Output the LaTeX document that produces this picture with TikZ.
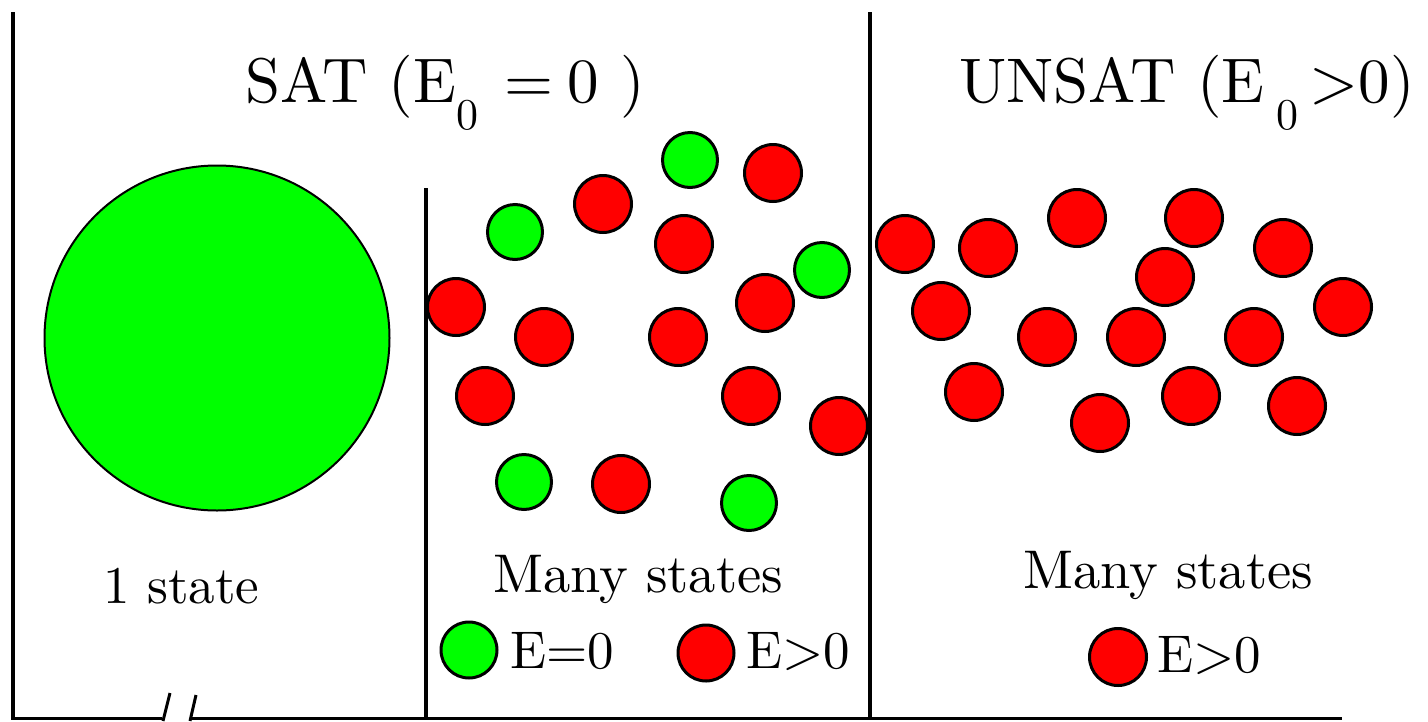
\documentclass[tikz,border=0pt]{standalone}
\usepackage{fontspec}
\setmainfont{lmroman10-regular}[Extension=.otf]
\usepackage{tikz}

\definecolor{stategreen}{RGB}{0,255,0}
\definecolor{statered}{RGB}{255,0,0}

\begin{document}
\begin{tikzpicture}[
    x=1pt, y=-1pt,
    state/.style={draw, circle, line width=3pt, inner sep=0pt, minimum size=57pt},
    goodstate/.style={state, fill=stategreen, minimum size=55pt},
    badstate/.style={state, fill=statered},
    title/.style={anchor=base west, inner sep=0pt, font=\fontsize{63}{70}\selectfont},
    caption/.style={anchor=base west, inner sep=0pt, font=\fontsize{53}{60}\selectfont}
]
\useasboundingbox (0,0) rectangle (1428,721);

% Frame
\draw[line width=4.5pt] (13,12) -- (13,719);
\draw[line width=3.5pt] (426,188) -- (426,719);
\draw[line width=4.5pt] (870,12) -- (870,719);
\draw[line width=3pt] (11,718) -- (162,718);
\draw[line width=3pt] (192,718) -- (1342,718);
\draw[line width=3pt] (170,693) -- (163,721);
\draw[line width=3pt] (196,695) -- (190,721);

% Titles
\node[title] (sat) at (245,102) {SAT (E\raisebox{-27pt}{\fontsize{44}{44}\selectfont 0}\kern26pt=\kern14pt0\kern22pt)};
\node[title] (unsat) at (959,102) {UNSAT (E\kern12pt\raisebox{-27pt}{\fontsize{44}{44}\selectfont 0}\kern11pt>0)};

% SAT, one ground state
\node[goodstate, line width=2pt, minimum size=345pt] (ground) at (217,338) {};
\node[caption] (one) at (103,603) {1 state};

% SAT, many states
\node[goodstate] (g1) at (690,160) {};
\node[goodstate] (g2) at (515,232) {};
\node[goodstate] (g3) at (822,270) {};
\node[goodstate] (g4) at (524,482) {};
\node[goodstate] (g5) at (749,503) {};
\node[badstate] (r1) at (773,173) {};
\node[badstate] (r2) at (603,204) {};
\node[badstate] (r3) at (684,244) {};
\node[badstate] (r4) at (456,307) {};
\node[badstate] (r5) at (765,303) {};
\node[badstate] (r6) at (544,337) {};
\node[badstate] (r7) at (678,337) {};
\node[badstate] (r8) at (485,396) {};
\node[badstate] (r9) at (751,396) {};
\node[badstate] (r10) at (839,426) {};
\node[badstate] (r11) at (621,484) {};
\node[caption, font=\fontsize{54.5}{60}\selectfont] (many) at (493,592) {Many states};

% SAT legend
\node[goodstate, minimum size=56pt] (keyg) at (469,650) {};
\node[caption] (keygtext) at (510,668) {E=0};
\node[badstate, minimum size=56pt] (keyr) at (706,653) {};
\node[caption] (keyrtext) at (746,668) {E>0};

% UNSAT, many states
\node[badstate] (u1) at (905,244) {};
\node[badstate] (u2) at (988,248) {};
\node[badstate] (u3) at (1077,218) {};
\node[badstate] (u4) at (1194,218) {};
\node[badstate] (u5) at (1283,248) {};
\node[badstate] (u6) at (1165,277) {};
\node[badstate] (u7) at (941,311) {};
\node[badstate] (u8) at (1343,307) {};
\node[badstate] (u9) at (1047,337) {};
\node[badstate] (u10) at (1136,337) {};
\node[badstate] (u11) at (1254,337) {};
\node[badstate] (u12) at (974,392) {};
\node[badstate] (u13) at (1191,396) {};
\node[badstate] (u14) at (1100,423) {};
\node[badstate] (u15) at (1297,406) {};
\node[caption, font=\fontsize{54.5}{60}\selectfont] (manyu) at (1023,588) {Many states};

% UNSAT legend
\node[badstate, minimum size=57pt] (keyu) at (1118,657) {};
\node[caption] (keyutext) at (1157,672) {E>0};

\end{tikzpicture}
\end{document}
